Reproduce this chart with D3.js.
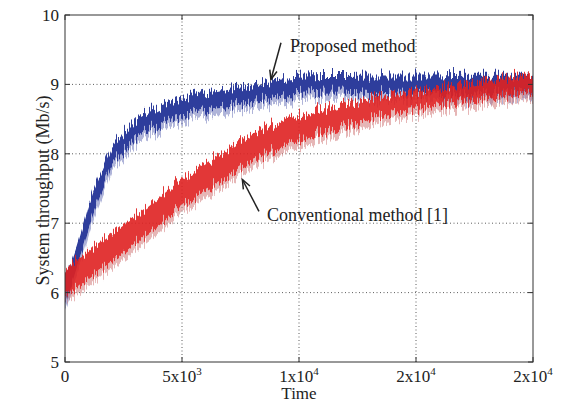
<!DOCTYPE html>
<html>
<head>
<meta charset="utf-8">
<script src="https://cdn.jsdelivr.net/npm/d3@7"></script>
<style>
  body { margin: 0; background: #fff; }
</style>
</head>
<body>
<svg id="chart" width="570" height="403"></svg>
<script>
// time samples
const times = [0, 250, 500, 750, 1000, 1250, 1500, 1750, 2000, 2500, 3000, 3500, 4000, 4500,
  5000, 5500, 6000, 6500, 7000, 7500, 8000, 8500, 9000, 9500, 10000,
  11000, 12000, 13000, 14000, 15000, 16000, 17000, 18000, 19000, 20000]

// proposed method, upper / lower edge of the noisy band
const blueHi = [6.3, 6.42, 6.66, 6.95, 7.25, 7.5, 7.7, 7.9, 8.08, 8.3, 8.48, 8.58, 8.68, 8.75,
  8.82, 8.86, 8.9, 8.92, 8.95, 8.97, 9.0, 9.02, 9.07, 9.1, 9.11,
  9.12, 9.12, 9.13, 9.13, 9.13, 9.13, 9.14, 9.14, 9.14, 9.14]
const blueLo = [5.85, 6.08, 6.35, 6.62, 6.92, 7.18, 7.4, 7.62, 7.85, 8.02, 8.22, 8.32, 8.42, 8.5,
  8.55, 8.6, 8.65, 8.68, 8.7, 8.72, 8.76, 8.78, 8.82, 8.85, 8.86,
  8.88, 8.88, 8.86, 8.88, 8.88, 8.86, 8.85, 8.88, 8.9, 8.9]

// conventional method [1]
const redHi = [6.3, 6.4, 6.47, 6.52, 6.6, 6.67, 6.73, 6.8, 6.86, 6.98, 7.1, 7.22, 7.36, 7.5,
  7.64, 7.76, 7.86, 7.97, 8.07, 8.18, 8.27, 8.36, 8.43, 8.5, 8.55,
  8.65, 8.73, 8.8, 8.86, 8.9, 8.95, 9.0, 9.06, 9.1, 9.14]
const redLo = [5.95, 6.0, 6.05, 6.12, 6.2, 6.27, 6.33, 6.4, 6.45, 6.57, 6.7, 6.83, 6.96, 7.1,
  7.26, 7.36, 7.46, 7.56, 7.67, 7.78, 7.88, 7.97, 8.05, 8.12, 8.2,
  8.3, 8.4, 8.5, 8.58, 8.64, 8.7, 8.75, 8.8, 8.84, 8.88]

const xTicks = [0, 5000, 10000, 15000, 20000]
const xTickLabels = [['0', ''], ['5x10', '3'], ['1x10', '4'], ['2x10', '4'], ['2x10', '4']]
const yTicks = [5, 6, 7, 8, 9, 10]

const font = '"Liberation Serif", "Times New Roman", Times, serif'
const margin = { top: 15, right: 37, bottom: 41, left: 65 }
const width = 570
const height = 403
const svg = d3.select('#chart').attr('font-family', font)

const x = d3.scaleLinear().domain([0, 20000]).range([margin.left, width - margin.right])
const y = d3.scaleLinear().domain([5, 10]).range([height - margin.bottom, margin.top])

// jitter filter: shifts each pixel column up/down so the bands look noisy
const defs = svg.append('defs')
function noiseFilter(id, seed, scale) {
  const f = defs.append('filter').attr('id', id)
    .attr('x', '-2%').attr('y', '-30%').attr('width', '104%').attr('height', '160%')
  f.append('feTurbulence').attr('type', 'fractalNoise')
    .attr('baseFrequency', '0.9 0.004').attr('numOctaves', 2).attr('seed', seed).attr('result', 'n')
  f.append('feColorMatrix').attr('in', 'n').attr('type', 'matrix')
    .attr('values', '0 0 0 0 0.5  0 1.6 0 0 -0.3  0 0 0 0 0  0 0 0 0 1').attr('result', 'm')
  f.append('feDisplacementMap').attr('in', 'SourceGraphic').attr('in2', 'm')
    .attr('scale', scale).attr('xChannelSelector', 'R').attr('yChannelSelector', 'G')
}
noiseFilter('jitB', 3, 16)
noiseFilter('jitR', 11, 16)

// grid
const grid = svg.append('g')
  .attr('stroke', '#333')
  .attr('stroke-width', 0.8)
  .attr('stroke-dasharray', '1,2.5')
grid.selectAll('.gx').data(xTicks.slice(1, -1)).join('line')
  .attr('x1', (d) => x(d)).attr('x2', (d) => x(d))
  .attr('y1', y(5)).attr('y2', y(10))
grid.selectAll('.gy').data(yTicks.slice(1, -1)).join('line')
  .attr('y1', (d) => y(d)).attr('y2', (d) => y(d))
  .attr('x1', x(0)).attr('x2', x(20000))

// noisy bands
const rows = times.map((t, i) => ({ t, bh: blueHi[i], bl: blueLo[i], rh: redHi[i], rl: redLo[i] }))

const band = (hi, lo, drop) => d3.area()
  .x((d) => x(d.t))
  .y0((d) => y(d[lo] - drop))
  .y1((d) => y(d[hi]))

const gB = svg.append('g').attr('filter', 'url(#jitB)')
gB.append('path').datum(rows)
  .attr('fill', '#7a82c0').attr('opacity', 0.6)
  .attr('d', band('bl', 'bl', 0.1))
gB.append('path').datum(rows)
  .attr('fill', '#2f3e9c')
  .attr('d', band('bh', 'bl', 0))

const gR = svg.append('g').attr('filter', 'url(#jitR)').attr('opacity', 0.9)
gR.append('path').datum(rows)
  .attr('fill', '#d07878').attr('opacity', 0.6)
  .attr('d', band('rl', 'rl', 0.1))
gR.append('path').datum(rows)
  .attr('fill', '#df2424')
  .attr('d', band('rh', 'rl', 0))

// box
svg.append('rect')
  .attr('x', x(0)).attr('y', y(10))
  .attr('width', x(20000) - x(0)).attr('height', y(5) - y(10))
  .attr('fill', 'none').attr('stroke', '#333').attr('stroke-width', 1)

// inward ticks on all sides
const tk = svg.append('g').attr('stroke', '#333').attr('stroke-width', 1)
tk.selectAll('.tb').data(xTicks).join('line')
  .attr('x1', (d) => x(d)).attr('x2', (d) => x(d)).attr('y1', y(5)).attr('y2', y(5) - 5)
tk.selectAll('.tt').data(xTicks).join('line')
  .attr('x1', (d) => x(d)).attr('x2', (d) => x(d)).attr('y1', y(10)).attr('y2', y(10) + 5)
tk.selectAll('.tl').data(yTicks).join('line')
  .attr('y1', (d) => y(d)).attr('y2', (d) => y(d)).attr('x1', x(0)).attr('x2', x(0) + 5)
tk.selectAll('.tr').data(yTicks).join('line')
  .attr('y1', (d) => y(d)).attr('y2', (d) => y(d)).attr('x1', x(20000)).attr('x2', x(20000) - 5)

// tick labels
svg.append('g').selectAll('text').data(yTicks).join('text')
  .attr('x', x(0) - 6).attr('y', (d) => y(d) + 6)
  .attr('text-anchor', 'end').attr('font-size', 17).attr('fill', '#222')
  .text((d) => d)

const xl = svg.append('g').selectAll('text').data(xTicks).join('text')
  .attr('x', (d) => x(d)).attr('y', y(5) + 20)
  .attr('text-anchor', 'middle').attr('font-size', 17).attr('fill', '#222')
xl.append('tspan').text((d, i) => xTickLabels[i][0])
xl.append('tspan').attr('font-size', 11).attr('dy', -7).text((d, i) => xTickLabels[i][1])

// axis titles
svg.append('text')
  .attr('x', (x(0) + x(20000)) / 2).attr('y', 399)
  .attr('text-anchor', 'middle').attr('font-size', 17).attr('fill', '#222')
  .text('Time')
svg.append('text')
  .attr('transform', `translate(49,${(y(5) + y(10)) / 2 + 2}) rotate(-90)`)
  .attr('text-anchor', 'middle').attr('font-size', 18).attr('fill', '#222')
  .text('System throughput (Mb/s)')

// annotations
function arrow(t0, v0, t1, v1) {
  const x0 = x(t0), y0 = y(v0), x1 = x(t1), y1 = y(v1)
  const a = Math.atan2(y1 - y0, x1 - x0)
  const h = 10, w = 0.38
  svg.append('line').attr('x1', x0).attr('y1', y0).attr('x2', x1).attr('y2', y1)
    .attr('stroke', '#222').attr('stroke-width', 1.5)
  svg.append('path')
    .attr('d', `M${x1 - h * Math.cos(a - w)},${y1 - h * Math.sin(a - w)}L${x1},${y1}L${x1 - h * Math.cos(a + w)},${y1 - h * Math.sin(a + w)}`)
    .attr('fill', 'none').attr('stroke', '#222').attr('stroke-width', 1.5)
}
arrow(9230, 9.6, 8800, 9.07)
arrow(8290, 7.17, 7580, 7.63)

svg.append('text').attr('x', x(9620)).attr('y', y(9.47)).attr('font-size', 18).attr('fill', '#222').text('Proposed method')
svg.append('text').attr('x', x(8630)).attr('y', y(7.03)).attr('font-size', 18).attr('fill', '#222').text('Conventional method [1]')
</script>
</body>
</html>
